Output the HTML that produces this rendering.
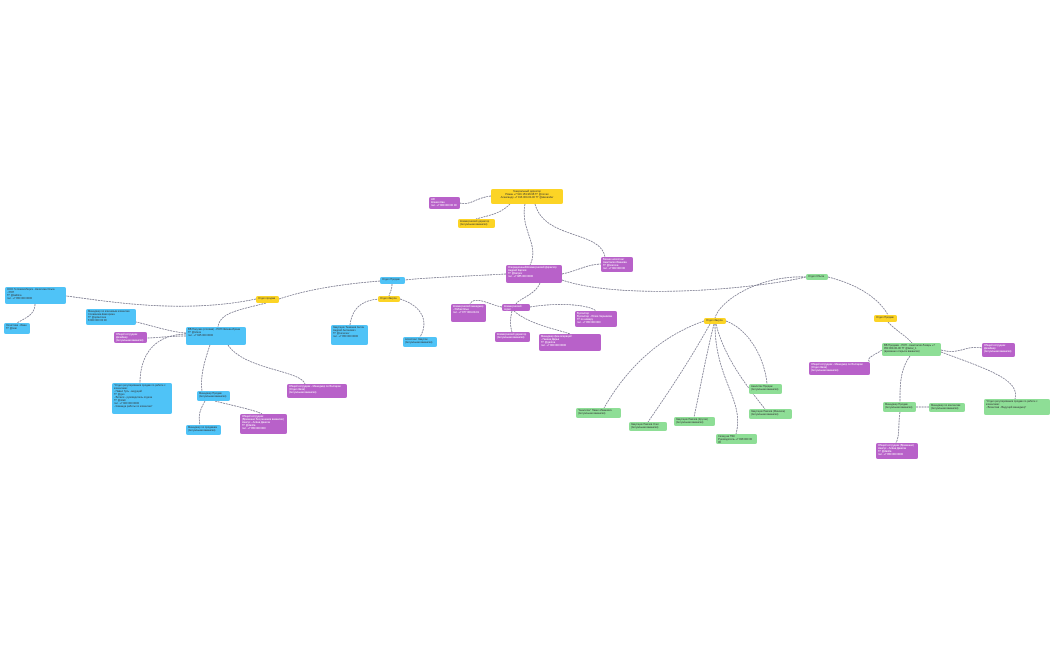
<!DOCTYPE html>
<html><head><meta charset="utf-8"><style>
body{margin:0;width:1050px;height:650px;background:#fff;position:relative;overflow:hidden;font-family:"Liberation Sans",sans-serif}
.n{position:absolute;border-radius:2px;font-size:2.6px;line-height:3px;padding:1px 2px;box-sizing:border-box;overflow:hidden;color:#333}
.y{background:#fcd425}.p{background:#b861c9;color:#fff}.b{background:#4fc3f7}.g{background:#8ede96}
svg{position:absolute;left:0;top:0}
path{fill:none;stroke:#6a6a80;stroke-width:.7;stroke-dasharray:2 .8}
</style></head><body>
<svg width="1050" height="650">
<path d="M491,196 C475,198 470,206 460,203"/>
<path d="M510,204 C500,214 490,215 476,219"/>
<path d="M525,204 C520,230 540,245 530,265"/>
<path d="M535,204 C545,240 600,230 605,257"/>
<path d="M562,274 C580,270 585,265 601,264"/>
<path d="M540,283 C535,295 520,298 516,304"/>
<path d="M506,274 C470,276 420,278 405,280"/>
<path d="M562,280 C620,300 750,290 806,277"/>
<path d="M502,307 C490,305 475,295 470,304"/>
<path d="M530,307 C560,302 590,305 596,311"/>
<path d="M512,311 C510,320 510,325 512,332"/>
<path d="M514,311 C530,325 560,330 570,334"/>
<path d="M392,284 C392,290 390,292 389,296"/>
<path d="M380,299 C360,300 352,310 350,325"/>
<path d="M400,299 C420,305 430,320 420,337"/>
<path d="M380,281 C330,285 300,292 279,299"/>
<path d="M256,299 C180,315 100,300 66,296"/>
<path d="M266,303 C240,310 220,312 218,327"/>
<path d="M35,304 C35,315 25,318 17,323"/>
<path d="M186,333 C170,332 150,325 136,322"/>
<path d="M186,336 C170,336 155,338 147,338"/>
<path d="M186,334 C150,335 140,360 140,383"/>
<path d="M210,345 C205,360 200,375 202,391"/>
<path d="M228,345 C245,370 300,370 305,384"/>
<path d="M205,401 C200,410 198,415 200,425"/>
<path d="M215,401 C230,405 255,410 262,414"/>
<path d="M806,277 C760,275 720,300 715,318"/>
<path d="M828,277 C860,285 880,300 888,315"/>
<path d="M888,322 C895,330 905,335 912,343"/>
<path d="M882,350 C875,355 865,358 870,362"/>
<path d="M941,350 C960,355 965,345 982,348"/>
<path d="M941,352 C990,370 1020,380 1015,399"/>
<path d="M910,356 C900,370 900,385 900,402"/>
<path d="M916,407 L929,407"/>
<path d="M900,412 C898,425 900,435 896,443"/>
<path d="M704,321 C650,340 620,380 604,408"/>
<path d="M710,324 C690,360 670,390 648,422"/>
<path d="M714,324 C705,360 700,390 694,417"/>
<path d="M715,324 C715,380 745,400 736,434"/>
<path d="M716,324 C725,360 750,390 765,409"/>
<path d="M726,321 C750,330 765,360 767,384"/>
</svg>
<div class="n y" style="left:491px;top:189px;width:72px;height:15px;text-align:center">Генеральный директор<br>Роман +7 916 153-98-98 ТГ @roman<br>Александр +7 916 000-00-00 ТГ @alexander</div>
<div class="n p" style="left:429px;top:197px;width:31px;height:12px">HR<br>Ксения Кан<br>тел. +7 909 000 00 00</div>
<div class="n y" style="left:458px;top:219px;width:37px;height:9px">Коммерческий директор<br>(Актуальная вакансия)</div>
<div class="n p" style="left:506px;top:265px;width:56px;height:18px">Операционный/Коммерческий Директор<br>Андрей Карпов<br>ТГ @karpov<br>тел. +7 985 000 0000</div>
<div class="n p" style="left:601px;top:257px;width:32px;height:15px">Бизнес-ассистент<br>Анастасия Иванова<br>ТГ @ivanova<br>тел. +7 903 000 00</div>
<div class="n p" style="left:502px;top:304px;width:28px;height:7px">Коммерческий отдел</div>
<div class="n p" style="left:451px;top:304px;width:35px;height:18px">Коммерческий менеджер<br>- Рябов Илья<br>тел. +7 977 000-00-01</div>
<div class="n p" style="left:495px;top:332px;width:35px;height:10px">Коммерческий директор<br>(Актуальная вакансия)</div>
<div class="n p" style="left:539px;top:334px;width:62px;height:17px">Менеджер фин.операций<br>- Ганина Дарья<br>ТГ @ganina<br>тел. +7 900 000 0000</div>
<div class="n p" style="left:575px;top:311px;width:42px;height:16px">Бухгалтер<br>Бухгалтер - Юлия Черникова<br>ТГ по номеру<br>тел. +7 950 000 000</div>
<div class="n b" style="left:380px;top:277px;width:25px;height:7px">Отдел Продаж</div>
<div class="n y" style="left:378px;top:296px;width:22px;height:6px">Отдел Закупа</div>
<div class="n b" style="left:331px;top:325px;width:37px;height:20px">Закупщик Тюменев Антон<br>Андрей Антонович<br>ТГ @tumenev<br>тел. +7 950 000 0000</div>
<div class="n b" style="left:403px;top:337px;width:34px;height:10px">Ассистент Закупок<br>(Актуальная вакансия)</div>
<div class="n y" style="left:256px;top:296px;width:23px;height:7px">Отдел продаж</div>
<div class="n b" style="left:5px;top:287px;width:61px;height:17px">ООО Ги Новосибирск - Калитина Ольга<br>- РОП<br>ТГ @kalitina<br>тел. +7 950 000 0000</div>
<div class="n b" style="left:4px;top:323px;width:26px;height:11px">Логистика - Иван<br>ТГ @ivan</div>
<div class="n b" style="left:86px;top:309px;width:50px;height:16px">Менеджер по ключевым клиентам<br>Сплавнова Екатерина<br>ТГ @splavnova<br>8 900 000 00 00</div>
<div class="n p" style="left:114px;top:332px;width:33px;height:11px">Общий сотрудник<br>Дизайнер<br>(Актуальная вакансия)</div>
<div class="n b" style="left:186px;top:327px;width:60px;height:18px">ВВ Покупки (оптовая) - РОП Ивлева Ирина<br>ТГ @ivleva<br>тел. +7 925 000 0000</div>
<div class="n b" style="left:112px;top:383px;width:60px;height:31px">"Отдел регулирования продаж по работе с клиентами:<br>- Павел Гусь - ведущий<br>ТГ @gus<br>- Витали - руководитель отдела<br>ТГ @vitali<br>тел. +7 900 000 0000<br>- Команда работы по клиентам"</div>
<div class="n b" style="left:197px;top:391px;width:33px;height:10px">Менеджер Продаж<br>(Актуальная вакансия)</div>
<div class="n b" style="left:186px;top:425px;width:35px;height:10px">Менеджер по продажам<br>(Актуальная вакансия)</div>
<div class="n p" style="left:240px;top:414px;width:47px;height:20px">Общий сотрудник<br>(Временно без решения вакансии)<br>Нексус - Алёна Данила<br>ТГ @danila<br>тел. +7 950 000 000</div>
<div class="n p" style="left:287px;top:384px;width:60px;height:14px">Общий сотрудник - Менеджер по Болгарии<br>(Отдел Зала)<br>(Актуальная вакансия)</div>
<div class="n g" style="left:806px;top:274px;width:22px;height:6px">Отдел Сбыта</div>
<div class="n y" style="left:704px;top:318px;width:22px;height:6px">Отдел Закупа</div>
<div class="n y" style="left:874px;top:315px;width:23px;height:7px">Отдел Продаж</div>
<div class="n g" style="left:882px;top:343px;width:59px;height:13px">ВВ Продажи - РОП - Анастасия Лазарь +7 950 000-00-00 ТГ @lazar_1<br>(временно открыта вакансия)</div>
<div class="n p" style="left:809px;top:362px;width:61px;height:13px">Общий сотрудник - Менеджер по Болгарии<br>(Отдел Зала)<br>(Актуальная вакансия)</div>
<div class="n p" style="left:982px;top:343px;width:33px;height:14px">Общий сотрудник<br>Дизайнер<br>(Актуальная вакансия)</div>
<div class="n g" style="left:883px;top:402px;width:33px;height:10px">Менеджер Продаж<br>(Актуальная вакансия)</div>
<div class="n g" style="left:929px;top:403px;width:36px;height:9px">Менеджер по контентам<br>(Актуальная вакансия)</div>
<div class="n g" style="left:984px;top:399px;width:66px;height:16px">"Отдел регулирования продаж по работе с клиентами:<br>- Вячеслав - Ведущий менеджер"</div>
<div class="n p" style="left:876px;top:443px;width:42px;height:16px">Общий сотрудник (Временно)<br>Нексус - Алёна Данила<br>ТГ @danila<br>тел. +7 950 000 0000</div>
<div class="n g" style="left:576px;top:408px;width:45px;height:10px">"Аналитик" Павел Иванович<br>(Актуальная вакансия)</div>
<div class="n g" style="left:629px;top:422px;width:38px;height:9px">Закупщик Павлов Олег<br>(Актуальная вакансия)</div>
<div class="n g" style="left:674px;top:417px;width:41px;height:9px">Закупщик Павлов (Кругов)<br>(Актуальная вакансия)</div>
<div class="n g" style="left:716px;top:434px;width:41px;height:10px">Склад на ТЯК<br>Руководитель +7 938 000 00 00</div>
<div class="n g" style="left:749px;top:409px;width:43px;height:10px">Закупщик Павлов (Минское)<br>(Актуальная вакансия)</div>
<div class="n g" style="left:749px;top:384px;width:33px;height:10px">Аналитик Продаж<br>(Актуальная вакансия)</div>
</body></html>
